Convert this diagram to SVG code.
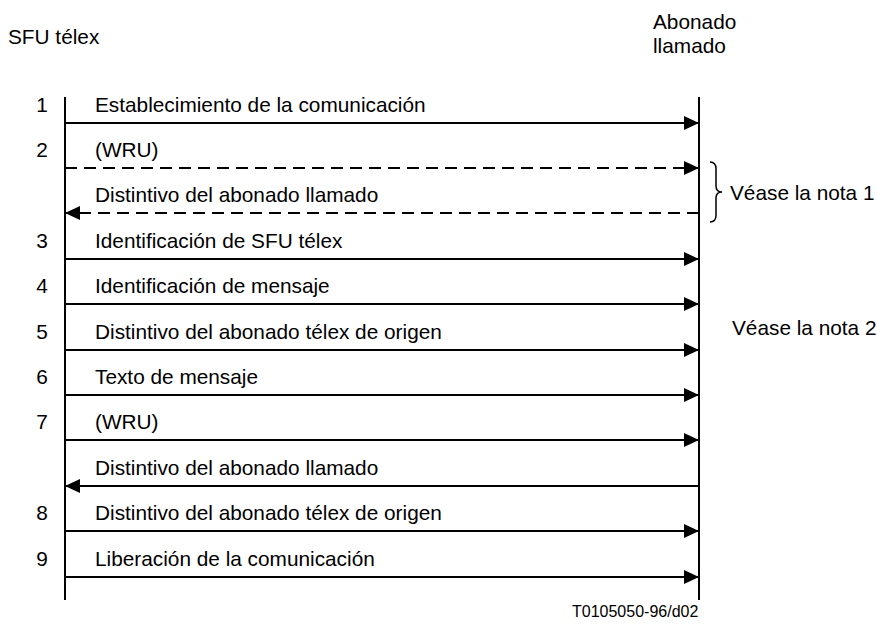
<svg xmlns="http://www.w3.org/2000/svg" width="877" height="626" viewBox="0 0 877 626">
<defs>
<marker id="ah" markerUnits="userSpaceOnUse" markerWidth="16" markerHeight="14" refX="15" refY="7" orient="auto">
<path d="M0,0 L15,7 L0,14 Z" fill="#000"/>
</marker>
<style>
text{font-family:"Liberation Sans",Arial,sans-serif;font-size:20.8px;fill:#000}
.num{text-anchor:middle}
.life{stroke:#000;stroke-width:2;fill:none}
.msg{stroke:#000;stroke-width:2;fill:none;marker-end:url(#ah)}
.dash{stroke-dasharray:12 7}
</style>
</defs>
<g id="headers">
<text x="8" y="44">SFU télex</text>
<text x="653" y="29">Abonado</text>
<text x="653" y="53">llamado</text>
</g>
<g id="lifelines">
<line class="life" x1="65" y1="97" x2="65" y2="600"/>
<line class="life" x1="699" y1="97" x2="699" y2="600"/>
</g>
<g id="connectors">
<line class="msg" x1="65" y1="123" x2="699" y2="123"/>
<line class="msg dash" x1="65" y1="168" x2="699" y2="168"/>
<line class="msg dash" x1="699" y1="213" x2="65" y2="213"/>
<line class="msg" x1="65" y1="259" x2="699" y2="259"/>
<line class="msg" x1="65" y1="304" x2="699" y2="304"/>
<line class="msg" x1="65" y1="350" x2="699" y2="350"/>
<line class="msg" x1="65" y1="395" x2="699" y2="395"/>
<line class="msg" x1="65" y1="440" x2="699" y2="440"/>
<line class="msg" x1="699" y1="486" x2="65" y2="486"/>
<line class="msg" x1="65" y1="531" x2="699" y2="531"/>
<line class="msg" x1="65" y1="577" x2="699" y2="577"/>
</g>
<g id="labels">
<text class="num" x="42" y="112">1</text>
<text x="95" y="112">Establecimiento de la comunicación</text>
<text class="num" x="42" y="157">2</text>
<text x="95" y="157">(WRU)</text>
<text x="95" y="202">Distintivo del abonado llamado</text>
<text class="num" x="42" y="248">3</text>
<text x="95" y="248">Identificación de SFU télex</text>
<text class="num" x="42" y="293">4</text>
<text x="95" y="293">Identificación de mensaje</text>
<text class="num" x="42" y="339">5</text>
<text x="95" y="339">Distintivo del abonado télex de origen</text>
<text class="num" x="42" y="384">6</text>
<text x="95" y="384">Texto de mensaje</text>
<text class="num" x="42" y="429">7</text>
<text x="95" y="429">(WRU)</text>
<text x="95" y="475">Distintivo del abonado llamado</text>
<text class="num" x="42" y="520">8</text>
<text x="95" y="520">Distintivo del abonado télex de origen</text>
<text class="num" x="42" y="566">9</text>
<text x="95" y="566">Liberación de la comunicación</text>
</g>
<g id="note1">
<path d="M710,162 Q716,162 716,169 L716,186 Q716,192 722,192 Q716,192 716,198 L716,215 Q716,222 710,222" fill="none" stroke="#000" stroke-width="1.5"/>
<text x="730" y="200">Véase la nota 1</text>
</g>
<g id="note2">
<text x="732" y="335">Véase la nota 2</text>
</g>
<g id="footer">
<text x="572" y="617" style="font-size:16px">T0105050-96/d02</text>
</g>
</svg>
